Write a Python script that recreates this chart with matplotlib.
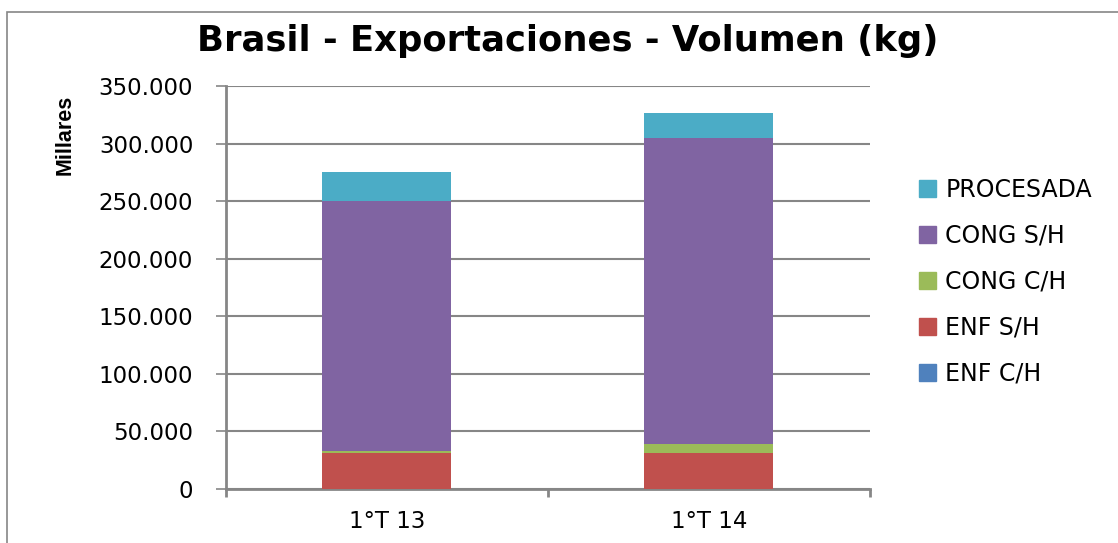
import matplotlib.pyplot as plt
from matplotlib.patches import Rectangle, Patch
from matplotlib.ticker import FuncFormatter

plt.rcParams['font.family'] = ['DejaVu Sans']

categories = ['1°T 13', '1°T 14']
series = ['ENF C/H', 'ENF S/H', 'CONG C/H', 'CONG S/H', 'PROCESADA']
colors = ['#4f81bd', '#c0504d', '#9bbb59', '#8064a2', '#4bacc6']
enf_ch = [0, 0]
enf_sh = [31000, 31500]
cong_ch = [1700, 7600]
cong_sh = [217700, 266000]
procesada = [24600, 21500]
values = [enf_ch, enf_sh, cong_ch, cong_sh, procesada]

fig = plt.figure(figsize=(11.18, 5.43), dpi=100)
ax = fig.add_axes([0.202, 0.0994, 0.576, 0.7422])

x = range(len(categories))
bottom = [0, 0]
for name, vals, col in zip(series, values, colors):
    ax.bar(x, vals, 0.4, bottom=bottom, color=col, linewidth=0,
           label=name, zorder=3)
    bottom = [b + v for b, v in zip(bottom, vals)]

ax.set_xlim(-0.5, 1.5)
ax.set_ylim(0, 350000)
ax.set_yticks(range(0, 350001, 50000))
ax.yaxis.set_major_formatter(FuncFormatter(lambda v, p: f'{int(v):,}'.replace(',', '.')))
ax.set_xticks(list(x))
ax.set_xticklabels(categories)
ax.set_xticks([-0.5, 0.5, 1.5], minor=True)
ax.tick_params(axis='x', which='major', length=0, labelsize=16.5, pad=15)
ax.tick_params(axis='x', which='minor', length=6, width=2, color='#868686')
ax.tick_params(axis='y', length=7, width=1.2, color='#868686', labelsize=16.5, pad=16.5)
ax.grid(axis='y', color='#868686', linewidth=1.5, zorder=0)
for s in ['top', 'right']:
    ax.spines[s].set_visible(False)
ax.spines['left'].set_color('#868686')
ax.spines['left'].set_linewidth(2)
ax.spines['bottom'].set_color('#868686')
ax.spines['bottom'].set_linewidth(2)

fig.text(65 / 1118, 1 - 135 / 543, 'Millares', rotation=90, fontsize=15.5,
         fontweight='bold', family=['Liberation Sans', 'DejaVu Sans'],
         ha='center', va='center')

fig.text(0.5076, 1 - 41 / 543, 'Brasil - Exportaciones - Volumen (kg)',
         fontsize=25.5, fontweight='bold', ha='center', va='center')

handles = [Patch(color=c, label=n) for n, c in zip(series, colors)][::-1]
fig.legend(handles=handles, loc='upper left', bbox_to_anchor=(919 / 1118, 1 - 178 / 543),
           frameon=False, fontsize=17, handlelength=0.72, handleheight=0.72,
           handletextpad=0.4, labelspacing=0.93, borderpad=0, borderaxespad=0)

fig.patches.append(Rectangle((7 / 1118, -0.05), 1.2, 1 - 12 / 543 + 0.05,
                             transform=fig.transFigure, fill=False,
                             edgecolor='#868686', linewidth=1.2))

fig.savefig('out.png', dpi=100)
